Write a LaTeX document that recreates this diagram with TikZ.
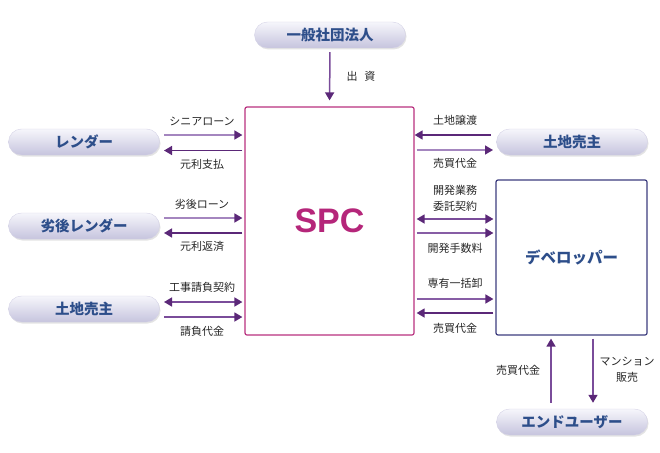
\documentclass[tikz,border=0pt]{standalone}
\usepackage{fontspec}
\setmainfont{Liberation Sans}
\newfontfamily\jp{Noto Sans CJK JP}
\usetikzlibrary{arrows.meta,shadows}
\definecolor{pilltop}{HTML}{F6F6FB}
\definecolor{pillbot}{HTML}{C6C4DE}
\definecolor{pillrim}{HTML}{D4D2E6}
\definecolor{pilltext}{HTML}{2D4E8A}
\definecolor{lbltext}{HTML}{262626}
\definecolor{adark}{HTML}{5B2878}
\definecolor{amid}{HTML}{7A4C9A}
\definecolor{alight}{HTML}{A486BF}
\definecolor{spcrim}{HTML}{B8307E}
\definecolor{spctext}{HTML}{B5267A}
\definecolor{devrim}{HTML}{3C3C7E}
\tikzset{
  pill/.style={rounded corners=13pt, minimum width=151pt, minimum height=26pt,
    top color=pilltop, bottom color=pillbot, draw=pillrim, line width=0.4pt,
    drop shadow={opacity=0.22, shadow xshift=1pt, shadow yshift=-1.5pt},
    font=\jp\bfseries\fontsize{14.5}{14.5}\selectfont, text=pilltext, inner sep=0pt},
  lbl/.style={font=\jp\fontsize{11}{16}\selectfont, text=lbltext, inner sep=0pt, align=center},
  tipd/.style={-{Triangle[length=8pt,width=9pt,color=adark]}},
  rarr/.style={draw=alight, line width=1.5pt, tipd},
  larr/.style={draw=adark, line width=1.5pt, tipd},
  darr/.style={draw=amid, line width=1.5pt, {Triangle[length=8pt,width=9pt,color=adark]}-{Triangle[length=8pt,width=9pt,color=adark]}},
  varr/.style={draw=amid, line width=1.5pt, tipd},
}
\begin{document}
\begin{tikzpicture}[x=1pt,y=-1pt]
\useasboundingbox (0,0) rectangle (660,452);
% main boxes
\node[draw=spcrim, line width=1.2pt, rounded corners=2pt, minimum width=169pt, minimum height=228pt,
  font=\bfseries\fontsize{34}{34}\selectfont, text=spctext] (spc) at (329.5,221) {SPC};
\node[draw=devrim, line width=1.2pt, rounded corners=2pt, minimum width=151pt, minimum height=155pt,
  font=\jp\bfseries\fontsize{15.5}{15.5}\selectfont, text=pilltext] (dev) at (571.5,257.5) {デベロッパー};
% pills
\node[pill] (gen) at (330,35) {一般社団法人};
\node[pill] (lender) at (84,142) {レンダー};
\node[pill] (sub) at (84,226) {劣後レンダー};
\node[pill] (landL) at (84,309) {土地売主};
\node[pill] (landR) at (572,142) {土地売主};
\node[pill] (user) at (572,422) {エンドユーザー};
% top arrow
\draw[varr, shorten <=4pt, shorten >=6pt] (gen.south) -- (spc.north);
\node[lbl] (l0) at (361,76) {出\hspace{0.6em}資};
% left side coordinates
\coordinate (a1) at (164,135);
\coordinate (a2) at (164,150.5);
\coordinate (a3) at (164,218);
\coordinate (a4) at (164,233);
\coordinate (a5) at (164,302);
\coordinate (a6) at (164,317);
\draw[rarr, shorten >=2pt] (a1) -- (spc.west |- a1);
\draw[larr, shorten <=2pt] (spc.west |- a2) -- (a2);
\draw[rarr, shorten >=2pt] (a3) -- (spc.west |- a3);
\draw[larr, shorten <=2pt] (spc.west |- a4) -- (a4);
\draw[darr, shorten >=2pt] (a5) -- (spc.west |- a5);
\draw[rarr, draw=amid, shorten >=2pt] (a6) -- (spc.west |- a6);
\node[lbl] (t1) at (202,121) {シニアローン};
\node[lbl] (t2) at (202,164) {元利支払};
\node[lbl] (t3) at (202,204) {劣後ローン};
\node[lbl] (t4) at (202,246.5) {元利返済};
\node[lbl] (t5) at (202,287) {工事請負契約};
\node[lbl] (t6) at (202,331.5) {請負代金};
% right side coordinates
\coordinate (b1) at (493,135);
\coordinate (b2) at (493,150);
\draw[larr, shorten <=2pt] (b1) -- (spc.east |- b1);
\draw[rarr, shorten <=2pt] (spc.east |- b2) -- (b2);
\coordinate (b3) at (0,219);
\coordinate (b4) at (0,233);
\coordinate (b5) at (0,299);
\coordinate (b6) at (0,313);
\draw[darr, shorten <=2pt, shorten >=2pt] (spc.east |- b3) -- (dev.west |- b3);
\draw[rarr, draw=amid!70!alight, shorten <=2pt, shorten >=2pt] (spc.east |- b4) -- (dev.west |- b4);
\draw[rarr, draw=amid!70!alight, shorten <=2pt, shorten >=2pt] (spc.east |- b5) -- (dev.west |- b5);
\draw[larr, shorten <=2pt, shorten >=2pt] (dev.west |- b6) -- (spc.east |- b6);
\node[lbl] (r1) at (455,120) {土地譲渡};
\node[lbl] (r2) at (455,163) {売買代金};
\node[lbl] (r3) at (455,198) {開発業務\\委託契約};
\node[lbl] (r4) at (455,248) {開発手数料};
\node[lbl] (r5) at (455,283) {専有一括卸};
\node[lbl] (r6) at (455,328) {売買代金};
% bottom
\coordinate (c1) at (551,0);
\coordinate (c2) at (593,0);
\draw[varr, shorten <=6pt, shorten >=3pt] (user.north -| c1) -- (dev.south -| c1);
\draw[varr, shorten <=3pt, shorten >=6pt] (dev.south -| c2) -- (user.north -| c2);
\node[lbl] (d1) at (518,370) {売買代金};
\node[lbl] (d2) at (627,370) {マンション\\販売};
\end{tikzpicture}
\end{document}
